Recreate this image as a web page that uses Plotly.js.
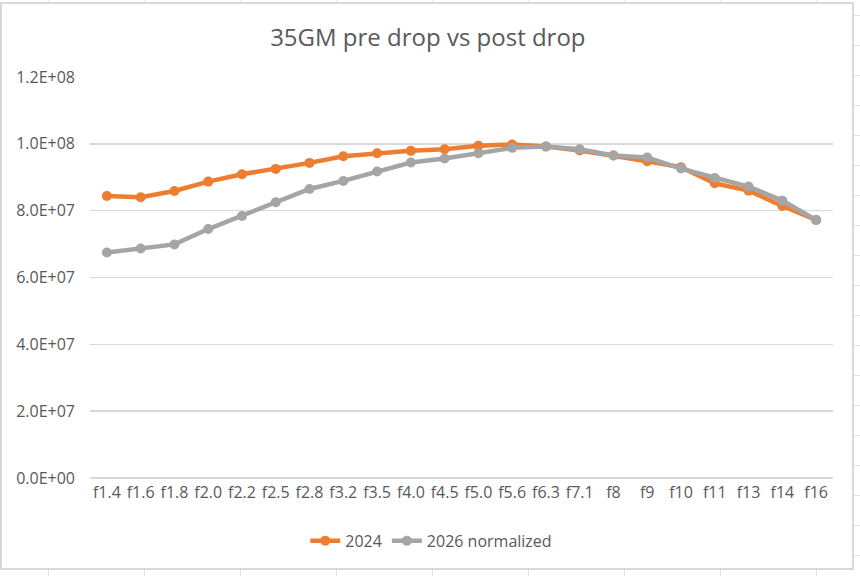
<!DOCTYPE html>
<html>
<head>
<meta charset="utf-8">
<script src="https://cdn.plot.ly/plotly-3.0.1.min.js"></script>
<style>
  html, body { margin: 0; padding: 0; width: 860px; height: 576px; overflow: hidden; }
  body {
    background-color: #ffffff;
    background-image:
      linear-gradient(to right, #e2e2e2 1px, transparent 1px),
      linear-gradient(to bottom, #e2e2e2 1px, transparent 1px);
    background-size: 96px 30px, 96px 30px;
    background-position: 48px 0, 0 15px;
  }
  #frame {
    position: absolute; left: 0; top: 2px;
    width: 854px; height: 568px;
    box-sizing: border-box;
    border: 2px solid #d9d9d9;
    background: #ffffff;
  }
</style>
</head>
<body>
<div id="frame"><div id="chart"></div></div>
<script>
// f-stops on the x axis
const apertures = ["f1.4", "f1.6", "f1.8", "f2.0", "f2.2", "f2.5", "f2.8", "f3.2", "f3.5", "f4.0", "f4.5",
                   "f5.0", "f5.6", "f6.3", "f7.1", "f8", "f9", "f10", "f11", "f13", "f14", "f16"];

// values
const values2024 = [8.44e7, 8.40e7, 8.59e7, 8.87e7, 9.09e7, 9.25e7, 9.43e7, 9.63e7, 9.72e7, 9.79e7, 9.84e7,
                    9.94e7, 9.98e7, 9.92e7, 9.80e7, 9.65e7, 9.48e7, 9.30e7, 8.82e7, 8.60e7, 8.14e7, 7.72e7];
const values2026 = [6.75e7, 6.87e7, 6.99e7, 7.45e7, 7.84e7, 8.25e7, 8.65e7, 8.89e7, 9.17e7, 9.44e7, 9.56e7,
                    9.72e7, 9.88e7, 9.92e7, 9.84e7, 9.65e7, 9.59e7, 9.26e7, 8.98e7, 8.72e7, 8.30e7, 7.72e7];

const yTicks = [0, 2e7, 4e7, 6e7, 8e7, 1e8, 1.2e8];

// excel style 1.2E+08
function sci(v) {
  if (v === 0) return "0.0E+00";
  const exp = Math.floor(Math.log10(v));
  const mant = v / Math.pow(10, exp);
  return mant.toFixed(1) + "E+" + String(exp).padStart(2, "0");
}

const fontFam = "'Open Sans', 'DejaVu Sans', sans-serif";
const txt = "#595959";

const data = [
  {
    x: apertures, y: values2024, name: "2024",
    type: "scatter", mode: "lines+markers",
    line: { color: "#ED7D31", width: 4.5 },
    marker: { color: "#ED7D31", size: 10 }
  },
  {
    x: apertures, y: values2026, name: "2026 normalized",
    type: "scatter", mode: "lines+markers",
    line: { color: "#A5A5A5", width: 4.5 },
    marker: { color: "#A5A5A5", size: 10 }
  }
];

const layout = {
  width: 850, height: 564,
  margin: { l: 88, r: 19, t: 73, b: 90 },
  paper_bgcolor: "#ffffff",
  plot_bgcolor: "#ffffff",
  font: { family: fontFam, color: txt, size: 16 },
  title: {
    text: "35GM pre drop vs post drop",
    font: { family: fontFam, size: 24, color: txt },
    x: 0.501, xref: "container", xanchor: "center",
    y: 0.94, yref: "container", yanchor: "middle"
  },
  xaxis: {
    type: "category",
    range: [-0.5, apertures.length - 0.5],
    showgrid: false, showline: false, zeroline: false,
    ticks: "", ticklabelstandoff: 3,
    tickfont: { size: 16, color: txt },
    fixedrange: true
  },
  yaxis: {
    range: [0, 1.2e8],
    tickvals: yTicks,
    ticktext: yTicks.map(sci),
    showgrid: true, gridcolor: "#d9d9d9", gridwidth: 1.5,
    zeroline: true, zerolinecolor: "#d9d9d9", zerolinewidth: 1.5,
    showline: false,
    ticks: "", ticklabelstandoff: 14,
    tickfont: { size: 16, color: txt },
    fixedrange: true
  },
  showlegend: true,
  legend: {
    orientation: "h",
    x: 0.505, xref: "container", xanchor: "center",
    y: 0.048, yref: "container", yanchor: "middle",
    font: { size: 16, color: txt }
  }
};

Plotly.newPlot("chart", data, layout, { displayModeBar: false, staticPlot: true });
</script>
</body>
</html>
